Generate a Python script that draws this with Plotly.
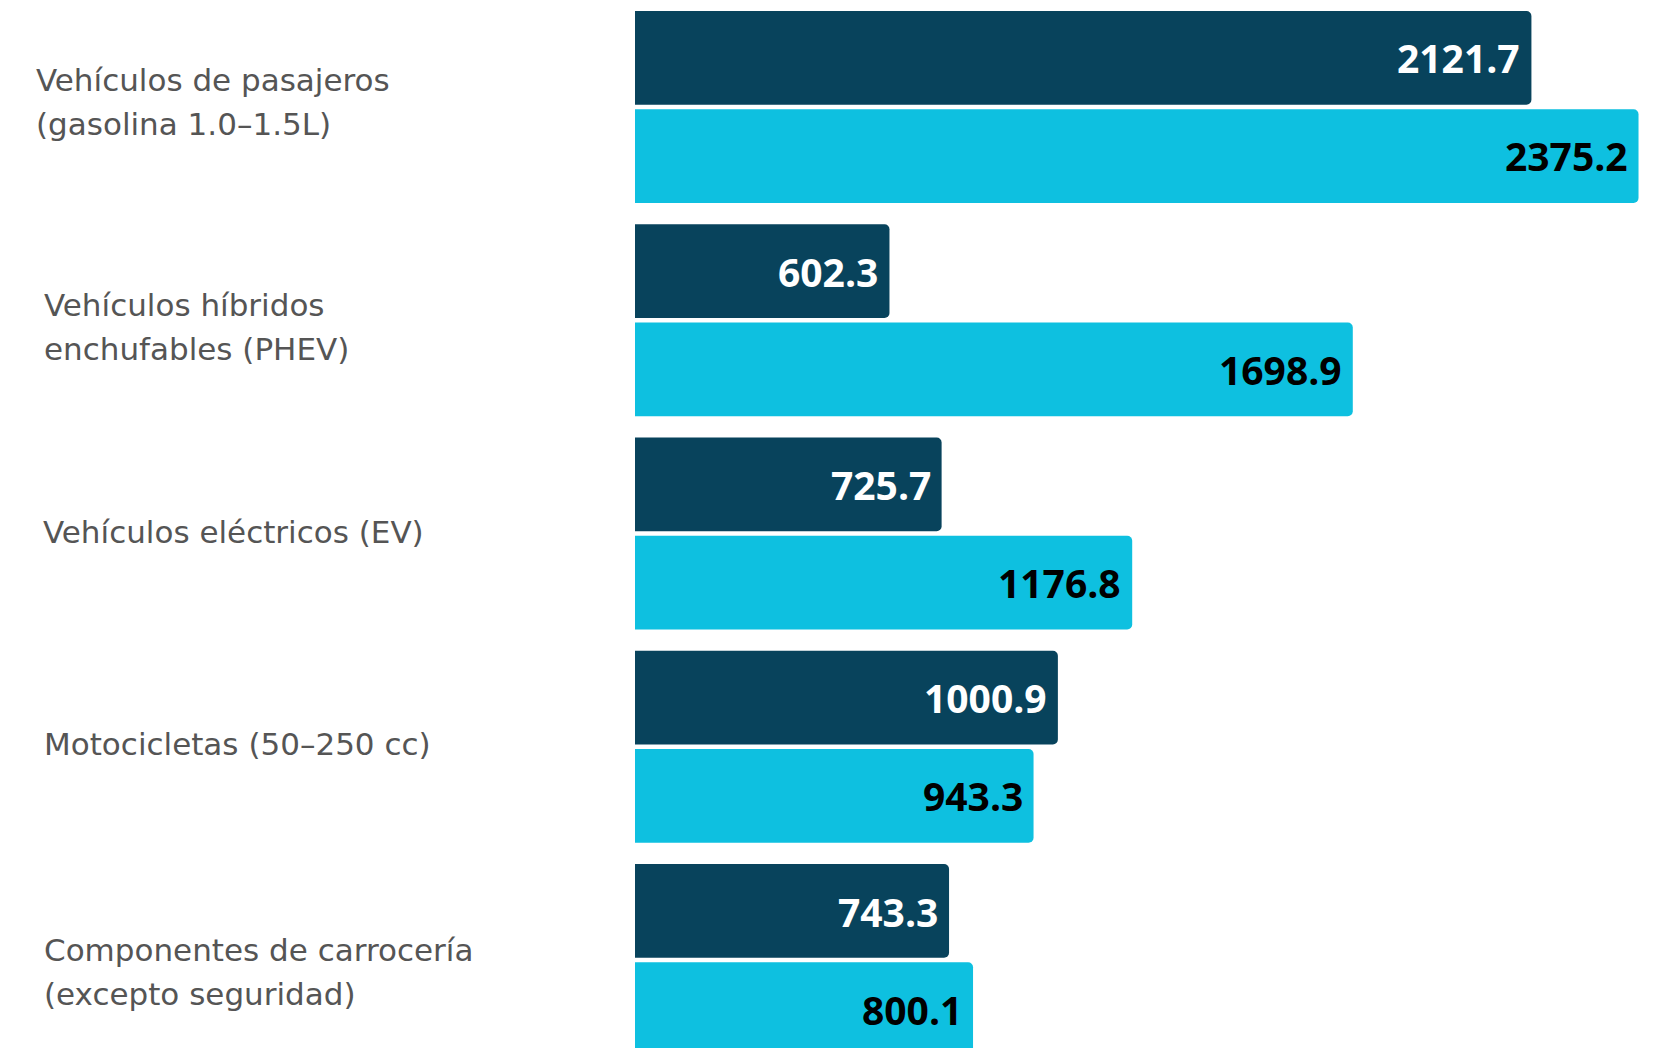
import plotly.graph_objects as go

# Categories (top to bottom) and the two series shown for each
categories = [
    "Vehículos de pasajeros<br>(gasolina 1.0–1.5L)",
    "Vehículos híbridos<br>enchufables (PHEV)",
    "Vehículos eléctricos (EV)",
    "Motocicletas (50–250 cc)",
    "Componentes de carrocería<br>(excepto seguridad)",
]
series_a = [2121.7, 602.3, 725.7, 1000.9, 743.3]
series_b = [2375.2, 1698.9, 1176.8, 943.3, 800.1]

# Styling
DARK = "#08435C"
LIGHT = "#0EC0E0"
LABEL_FONT = dict(family="DejaVu Sans", size=31, color="#555555")
VALUE_FONT_FAMILY = "Open Sans"
PLOT_LEFT = 635
# per-label left edge (px from page edge) and vertical nudge (px, +down)
label_style = [(34, -5), (42, 7), (41, -1), (42, -3), (42, 12)]
LINE_STEP = 44

fig = go.Figure()
fig.add_trace(go.Bar(y=categories, x=series_a, orientation="h",
                     marker=dict(color=DARK, line=dict(width=0)),
                     hoverinfo="x+y", name="A"))
fig.add_trace(go.Bar(y=categories, x=series_b, orientation="h",
                     marker=dict(color=LIGHT, line=dict(width=0)),
                     hoverinfo="x+y", name="B"))

annotations = []
# value labels, right-aligned inside bar ends
for cat, va, vb in zip(categories, series_a, series_b):
    annotations.append(dict(x=va, y=cat, xref="x", yref="y", text=f"{va:.1f}",
                            xanchor="right", yanchor="middle", xshift=-9, yshift=49,
                            showarrow=False,
                            font=dict(family=VALUE_FONT_FAMILY, size=39, color="#FFFFFF",
                                      weight=700)))
    annotations.append(dict(x=vb, y=cat, xref="x", yref="y", text=f"{vb:.1f}",
                            xanchor="right", yanchor="middle", xshift=-9, yshift=-49,
                            showarrow=False,
                            font=dict(family=VALUE_FONT_FAMILY, size=39, color="#000000",
                                      weight=700)))

# category labels, left-aligned in the left margin, one annotation per line
for cat, (lx, dy) in zip(categories, label_style):
    lines = cat.split("<br>")
    n = len(lines)
    for i, line in enumerate(lines):
        offset = (i - (n - 1) / 2) * LINE_STEP + dy
        annotations.append(dict(x=0, y=cat, xref="paper", yref="y", text=line,
                                xanchor="left", yanchor="middle",
                                xshift=lx - PLOT_LEFT, yshift=-offset,
                                showarrow=False, font=LABEL_FONT))

fig.update_layout(
    width=1679, height=1048,
    margin=dict(l=PLOT_LEFT, r=0, t=0, b=0),
    paper_bgcolor="#FFFFFF", plot_bgcolor="#FFFFFF",
    barmode="group", bargap=0.079, bargroupgap=0.045,
    barcornerradius=5,
    showlegend=False,
    annotations=annotations,
    xaxis=dict(range=[0, 2471], showgrid=False, zeroline=False,
               showticklabels=False, ticks="", showline=False, fixedrange=True),
    yaxis=dict(type="category", range=[4.4126, -0.5016], showgrid=False,
               zeroline=False, showticklabels=False, ticks="", showline=False,
               fixedrange=True),
)

fig.write_html("out.html", config={"displayModeBar": False})
